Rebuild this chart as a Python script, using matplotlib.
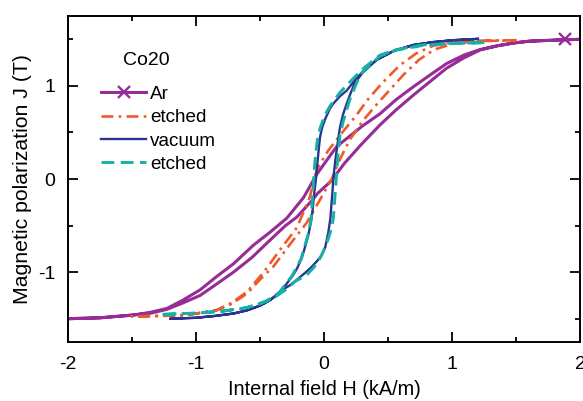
import matplotlib
matplotlib.use("Agg")
import matplotlib.pyplot as plt
from matplotlib.lines import Line2D

plt.rcParams['font.family'] = ['Liberation Sans', 'DejaVu Sans']

# ---- data (H in kA/m, J in T) ----
# Ar (purple)
ar_desc_H = [2.0, 1.865, 1.6, 1.475, 1.35, 1.216, 1.09, 0.956, 0.83, 0.696, 0.56, 0.436, 0.3, 0.2, 0.1, 0.047,
             -0.057, -0.16, -0.29, -0.42, -0.55, -0.706, -0.84, -0.966, -1.1, -1.226, -1.35, -1.485, -1.745, -2.0]
ar_desc_J = [1.50, 1.495, 1.48, 1.46, 1.43, 1.39, 1.33, 1.24, 1.12, 0.99, 0.85, 0.70, 0.57, 0.46, 0.35, 0.25,
             0.05, -0.20, -0.42, -0.57, -0.71, -0.91, -1.05, -1.19, -1.30, -1.39, -1.43, -1.46, -1.49, -1.50]
ar_asc_H = [-2.0, -1.745, -1.485, -1.35, -1.226, -1.1, -0.966, -0.84, -0.706, -0.56, -0.447, -0.3, -0.213, -0.1,
            -0.047, 0.057, 0.16, 0.29, 0.436, 0.56, 0.696, 0.83, 0.956, 1.09, 1.216, 1.35, 1.475, 1.6, 1.865, 2.0]
ar_asc_J = [-1.50, -1.49, -1.46, -1.44, -1.40, -1.33, -1.25, -1.13, -1.0, -0.84, -0.69, -0.50, -0.41, -0.24,
            -0.15, -0.02, 0.17, 0.37, 0.58, 0.74, 0.90, 1.05, 1.19, 1.30, 1.385, 1.43, 1.46, 1.48, 1.495, 1.50]
ar_marker_H = [1.88]
ar_marker_J = [1.50]

# etched (orange, dash-dot)
et1_desc_H = [1.5, 1.2, 1.0, 0.85, 0.72, 0.59, 0.46, 0.345, 0.255, 0.125, 0.03, -0.057, -0.11, -0.21,
              -0.343, -0.47, -0.6, -0.72, -0.84, -1.07, -1.28, -1.5]
et1_desc_J = [1.49, 1.485, 1.47, 1.43, 1.35, 1.22, 1.04, 0.86, 0.69, 0.47, 0.30, 0.10, -0.19, -0.52,
              -0.76, -1.0, -1.21, -1.33, -1.41, -1.46, -1.47, -1.475]
et1_asc_H = [-1.5, -1.28, -1.07, -0.84, -0.72, -0.6, -0.5, -0.395, -0.265, -0.135, -0.03, 0.06, 0.12, 0.2,
             0.306, 0.41, 0.515, 0.62, 0.74, 0.86, 1.0, 1.2, 1.5]
et1_asc_J = [-1.475, -1.47, -1.46, -1.41, -1.34, -1.23, -1.08, -0.94, -0.70, -0.47, -0.22, 0.0, 0.2, 0.42,
             0.63, 0.80, 0.96, 1.12, 1.28, 1.39, 1.45, 1.48, 1.49]

# vacuum (dark blue, solid)
vac_desc_H = [1.2, 1.0, 0.85, 0.7, 0.55, 0.41, 0.3, 0.24, 0.177, 0.125, 0.073, 0.047, 0.008, -0.015, -0.031,
              -0.044, -0.055, -0.062, -0.07, -0.08, -0.088, -0.1, -0.122, -0.15, -0.174, -0.21, -0.24, -0.3,
              -0.343, -0.42, -0.5, -0.6, -0.706, -0.85, -1.0, -1.2]
vac_desc_J = [1.505, 1.49, 1.47, 1.44, 1.38, 1.28, 1.15, 1.06, 0.95, 0.89, 0.81, 0.76, 0.64, 0.55, 0.45,
              0.28, 0.12, 0.01, -0.08, -0.2, -0.32, -0.45, -0.60, -0.74, -0.85, -0.96, -1.03, -1.14,
              -1.21, -1.30, -1.36, -1.41, -1.444, -1.47, -1.49, -1.50]
vac_asc_H = [-1.2, -1.0, -0.85, -0.706, -0.6, -0.5, -0.42, -0.343, -0.3, -0.265, -0.21, -0.15, -0.109, -0.06,
             -0.018, 0.01, 0.034, 0.05, 0.06, 0.068, 0.073, 0.08, 0.09, 0.099, 0.112, 0.125, 0.15, 0.177,
             0.21, 0.24, 0.3, 0.41, 0.55, 0.7, 0.85, 1.0, 1.2]
vac_asc_J = [-1.50, -1.49, -1.47, -1.444, -1.41, -1.36, -1.30, -1.22, -1.17, -1.14, -1.08, -1.01, -0.96,
             -0.89, -0.82, -0.73, -0.57, -0.42, -0.24, -0.1, 0.01, 0.1, 0.22, 0.31, 0.44, 0.56, 0.70, 0.81,
             0.93, 1.03, 1.14, 1.28, 1.38, 1.44, 1.47, 1.49, 1.505]

# etched (teal, dashed)
et2_desc_H = [1.25, 1.0, 0.77, 0.567, 0.436, 0.3, 0.2, 0.125, 0.05, 0.008, -0.03, -0.052, -0.07, -0.08,
              -0.09, -0.1, -0.125, -0.18, -0.25, -0.35, -0.45, -0.6, -0.8, -1.0, -1.28]
et2_desc_J = [1.465, 1.455, 1.44, 1.39, 1.33, 1.18, 1.04, 0.93, 0.79, 0.69, 0.55, 0.42, 0.2, 0.0,
              -0.2, -0.42, -0.6, -0.86, -1.04, -1.22, -1.31, -1.38, -1.42, -1.44, -1.455]
et2_asc_H = [-1.28, -1.0, -0.8, -0.63, -0.5, -0.395, -0.3, -0.226, -0.135, -0.08, -0.031, 0.0, 0.034, 0.06,
             0.073, 0.082, 0.09, 0.1, 0.112, 0.125, 0.15, 0.2, 0.26, 0.3, 0.436, 0.567, 0.77, 1.0, 1.25]
et2_asc_J = [-1.455, -1.44, -1.42, -1.39, -1.34, -1.28, -1.19, -1.10, -1.03, -0.95, -0.85, -0.76, -0.64, -0.52,
             -0.42, -0.25, -0.1, 0.1, 0.31, 0.47, 0.62, 0.85, 1.05, 1.15, 1.32, 1.385, 1.435, 1.455, 1.465]

labels = ["Ar", "etched", "vacuum", "etched"]
legend_title = "Co20"
x_ticks = [-2, -1, 0, 1, 2]
y_ticks = [-1, 0, 1]

# ---- styles ----
c_ar = "#962d96"
c_et1 = "#f0592a"
c_vac = "#2b3590"
c_et2 = "#17b0a6"
FS = 14

fig = plt.figure(figsize=(5.83, 4.01), dpi=100)
ax = fig.add_axes([0.1158, 0.1471, 0.8799, 0.8129])

ax.plot(ar_desc_H + ar_asc_H, ar_desc_J + ar_asc_J, color=c_ar, lw=2.2, solid_capstyle='round')
ax.plot(ar_marker_H, ar_marker_J, ls='none', marker='x', ms=8, mew=1.7, color=c_ar)
ax.plot(et1_desc_H + et1_asc_H, et1_desc_J + et1_asc_J, color=c_et1, lw=1.9,
        dashes=(4.5, 2.0, 1.0, 2.0))
ax.plot(vac_desc_H + vac_asc_H, vac_desc_J + vac_asc_J, color=c_vac, lw=1.7)
ax.plot(et2_desc_H + et2_asc_H, et2_desc_J + et2_asc_J, color=c_et2, lw=2.1, dashes=(4.4, 2.2))

ax.set_xlim(-2, 2)
ax.set_ylim(-1.75, 1.75)
ax.set_xticks(x_ticks)
ax.set_yticks(y_ticks)
ax.set_xticks([-1.5, -0.5, 0.5, 1.5], minor=True)
ax.set_yticks([-1.5, -0.5, 0.5, 1.5], minor=True)
ax.set_xticklabels([str(v) for v in x_ticks])
ax.set_yticklabels([str(v) for v in y_ticks])
ax.tick_params(which='both', direction='in', top=True, right=True, width=1.3, labelsize=FS)
ax.tick_params(which='major', length=7)
ax.tick_params(axis='x', which='major', pad=10)
ax.tick_params(axis='y', which='major', pad=9)
ax.tick_params(which='minor', length=3.6)
for s in ax.spines.values():
    s.set_linewidth(1.4)

ax.set_xlabel("Internal field H (kA/m)", fontsize=14.3, labelpad=5)
ax.set_ylabel("Magnetic polarization J (T)", fontsize=15.3, labelpad=4)

handles = [
    Line2D([], [], color=c_ar, lw=2.2, marker='x', ms=8, mew=1.7),
    Line2D([], [], color=c_et1, lw=1.9, dashes=(4.5, 2.0, 1.0, 2.0)),
    Line2D([], [], color=c_vac, lw=1.7),
    Line2D([], [], color=c_et2, lw=2.1, dashes=(4.4, 2.2)),
]
ax.legend(handles, labels, loc='upper left', bbox_to_anchor=(0.065, 0.787), frameon=False,
          fontsize=13.6, borderpad=0, borderaxespad=0, handlelength=2.4, handletextpad=0.2,
          labelspacing=0.33)
ax.text(0.108, 0.865, legend_title, transform=ax.transAxes, fontsize=14, va='center', ha='left')

fig.savefig("out.png", dpi=100)
